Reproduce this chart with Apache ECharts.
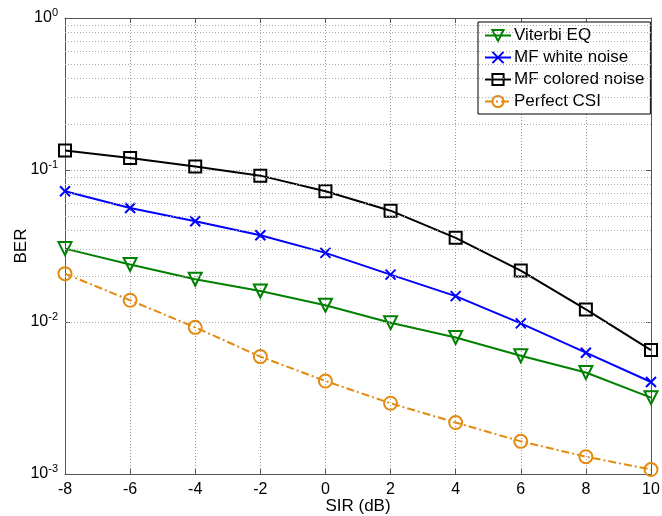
<!DOCTYPE html>
<html>
<head>
<meta charset="utf-8">
<script src="https://cdn.jsdelivr.net/npm/echarts@6/dist/echarts.min.js"></script>
<style>
    html, body { margin: 0; padding: 0; background: #fff; }
    #main { width: 662px; height: 516px; }
</style>
</head>
<body>
<div id="main"></div>
<script>
    // SIR (dB) on the x axis
    var sir = [-8, -6, -4, -2, 0, 2, 4, 6, 8, 10];
    // BER curves
    var viterbiEq = [0.0304, 0.0239, 0.0191, 0.0160, 0.0129, 0.0099, 0.0079, 0.0060, 0.00465, 0.00318];
    var mfWhite = [0.0724, 0.0563, 0.0460, 0.0372, 0.0285, 0.0205, 0.0148, 0.0098, 0.00628, 0.00403];
    var mfColored = [0.1345, 0.120, 0.1056, 0.0918, 0.0724, 0.0540, 0.0358, 0.0218, 0.0121, 0.00654];
    var perfectCsi = [0.0208, 0.0139, 0.00922, 0.00592, 0.00409, 0.00292, 0.00218, 0.00164, 0.00130, 0.00107];
    var legendNames = ['Viterbi EQ', 'MF white noise', 'MF colored noise', 'Perfect CSI'];

    // minor log grid lines (2..9 in each decade)
    var decades = [0.001, 0.01, 0.1];
    var mantissas = [2, 3, 4, 5, 6, 7, 8, 9];
    var minorGrid = [];
    decades.forEach(function (d) {
        mantissas.forEach(function (m) {
            minorGrid.push({yAxis: +(m * d).toPrecision(3)});
        });
    });

    function pairs(ys) {
        return sir.map(function (x, i) { return [x, ys[i]]; });
    }

    var font = 'Liberation Sans, Arial, sans-serif';
    var axisGrey = '#555';
    var gridLine = {show: true, lineStyle: {type: [1, 2], color: '#999', width: 1}};

    var green = '#008000', blue = '#0000ff', black = '#000000', orange = '#e38a10';
    var crossPath = 'path://M0,0L10,10M10,0L0,10';

    function curve(name, ys, color, symbol, extra) {
        var s = {
            name: name,
            type: 'line',
            data: pairs(ys),
            symbol: symbol,
            symbolSize: 12,
            color: color,
            lineStyle: {color: color, width: 2},
            itemStyle: {color: 'rgba(255,255,255,0)', borderColor: color, borderWidth: 2},
            z: 3
        };
        if (extra) Object.assign(s, extra);
        return s;
    }

    var option = {
        animation: false,
        backgroundColor: '#fff',
        textStyle: {fontFamily: font},
        grid: {left: 65, right: 11, top: 18, bottom: 42, outerBoundsMode: 'none', containLabel: false},
        legend: {
            data: legendNames,
            orient: 'vertical',
            left: 478,
            top: 22,
            padding: [5, 6, 4, 6],
            itemGap: 5,
            itemWidth: 26,
            itemHeight: 14,
            backgroundColor: '#fff',
            borderColor: '#000',
            borderWidth: 1,
            borderRadius: 0,
            textStyle: {fontSize: 17, color: '#000', fontFamily: font, padding: [0, 0, 0, -2]}
        },
        xAxis: [{
            type: 'value',
            min: -8,
            max: 10,
            interval: 2,
            name: 'SIR (dB)',
            nameLocation: 'middle',
            nameGap: 24,
            nameMoveOverlap: false,
            nameTextStyle: {fontSize: 17, color: '#000', verticalAlign: 'top', lineHeight: 17},
            axisLine: {onZero: false, lineStyle: {color: axisGrey}},
            axisTick: {inside: true, length: 5, lineStyle: {color: axisGrey}},
            axisLabel: {fontSize: 16, color: '#000', margin: 8},
            splitLine: gridLine
        }, {
            type: 'value',
            position: 'top',
            min: -8,
            max: 10,
            interval: 2,
            axisLine: {onZero: false, lineStyle: {color: axisGrey}},
            axisTick: {inside: true, length: 5, lineStyle: {color: axisGrey}},
            axisLabel: {show: false},
            splitLine: {show: false}
        }],
        yAxis: [{
            type: 'log',
            logBase: 10,
            min: 0.001,
            max: 1,
            name: 'BER',
            nameLocation: 'middle',
            nameGap: 35,
            nameMoveOverlap: false,
            nameTextStyle: {fontSize: 17, color: '#000'},
            axisLine: {show: true, onZero: false, lineStyle: {color: axisGrey}},
            axisTick: {show: true, inside: true, length: 5, lineStyle: {color: axisGrey}},
            axisLabel: {
                fontSize: 16,
                color: '#000',
                margin: 7,
                formatter: function (v) {
                    return '10{sup|' + Math.round(Math.log10(v)) + '}';
                },
                rich: {
                    sup: {fontSize: 11, color: '#000', padding: [0, 0, 10, 0]}
                }
            },
            splitLine: gridLine
        }, {
            type: 'log',
            logBase: 10,
            min: 0.001,
            max: 1,
            position: 'right',
            axisLine: {show: true, onZero: false, lineStyle: {color: axisGrey}},
            axisTick: {show: true, inside: true, length: 5, lineStyle: {color: axisGrey}},
            axisLabel: {show: false},
            splitLine: {show: false}
        }],
        series: [
            {
                name: 'grid',
                type: 'line',
                data: [],
                silent: true,
                z: 1,
                markLine: {
                    silent: true,
                    symbol: ['none', 'none'],
                    label: {show: false},
                    emphasis: {disabled: true},
                    lineStyle: {type: [1, 2], color: '#aaa', width: 1},
                    data: minorGrid
                }
            },
            curve(legendNames[0], viterbiEq, green, 'triangle', {symbolRotate: 180, symbolSize: 13}),
            curve(legendNames[1], mfWhite, blue, crossPath, {symbolSize: 10}),
            curve(legendNames[2], mfColored, black, 'rect', {symbolSize: 12}),
            curve(legendNames[3], perfectCsi, orange, 'circle', {
                symbolSize: 13,
                lineStyle: {color: orange, width: 2, type: [8, 3, 2, 3]}
            })
        ]
    };

    var chart = echarts.init(document.getElementById('main'));
    chart.setOption(option);
</script>
</body>
</html>
